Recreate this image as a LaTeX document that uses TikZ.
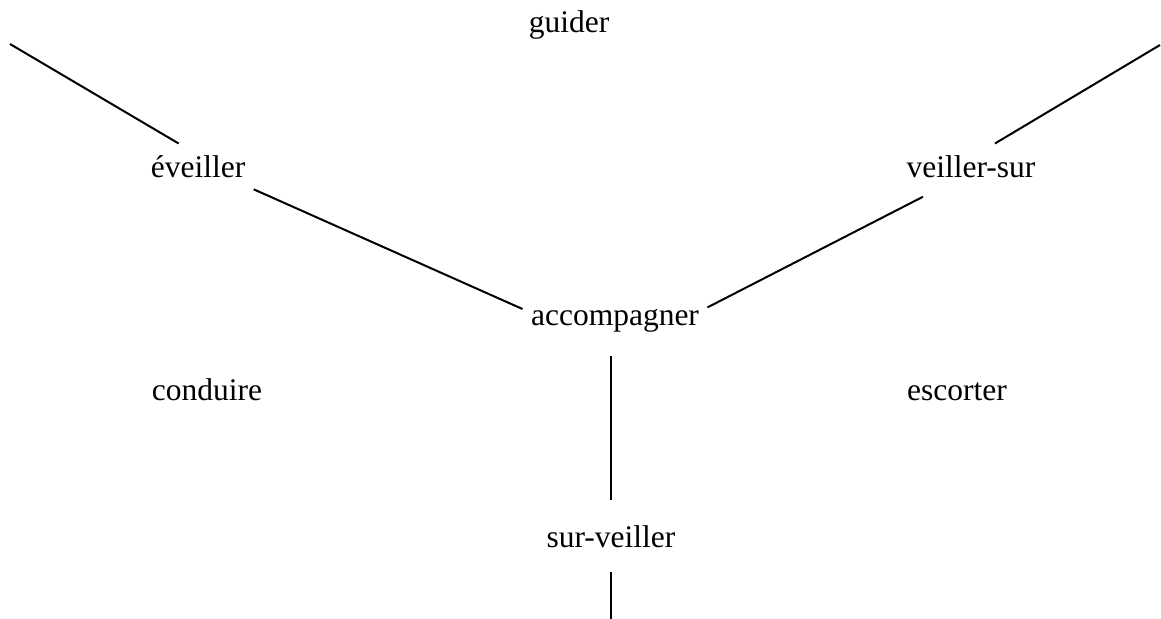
\documentclass[tikz,border=0pt]{standalone}
\usepackage{fontspec}
\setmainfont{Liberation Serif}
\begin{document}
\begin{tikzpicture}[x=0.4pt, y=-0.4pt,
    word/.style={anchor=base, font=\fontsize{12.6}{15}\selectfont, inner xsep=3.2pt, inner ysep=4.8pt, text height=8.8pt, text depth=2.5pt},
    link/.style={line width=0.8pt}]
    \useasboundingbox (0,0) rectangle (1161,619);
    \node[word] (guider) at (569,33) {guider};
    \node[word] (eveiller) at (198,178) {éveiller};
    \node[word] (veillersur) at (971,178) {veiller-sur};
    \node[word] (accomp) at (615,325) {accompagner};
    \node[word] (conduire) at (207,400) {conduire};
    \node[word] (escorter) at (957,400) {escorter};
    \node[word] (surveiller) at (611,547) {sur-veiller};
    \coordinate (nw) at (10,44);
    \coordinate (ne) at (1160,45);
    \coordinate (bot) at (611,619);
    \draw[link]
    (nw) -- (eveiller.126)
    (eveiller.-19) -- (accomp.175)
    (accomp.6) -- (veillersur.209)
    (veillersur.48) -- (ne)
    ;
    \draw[link, shorten <=5pt, shorten >=5.2pt] (accomp.south -| surveiller.north) -- (surveiller.north);
    \draw[link, shorten <=2.6pt] (surveiller.south) -- (bot);
\end{tikzpicture}
\end{document}
